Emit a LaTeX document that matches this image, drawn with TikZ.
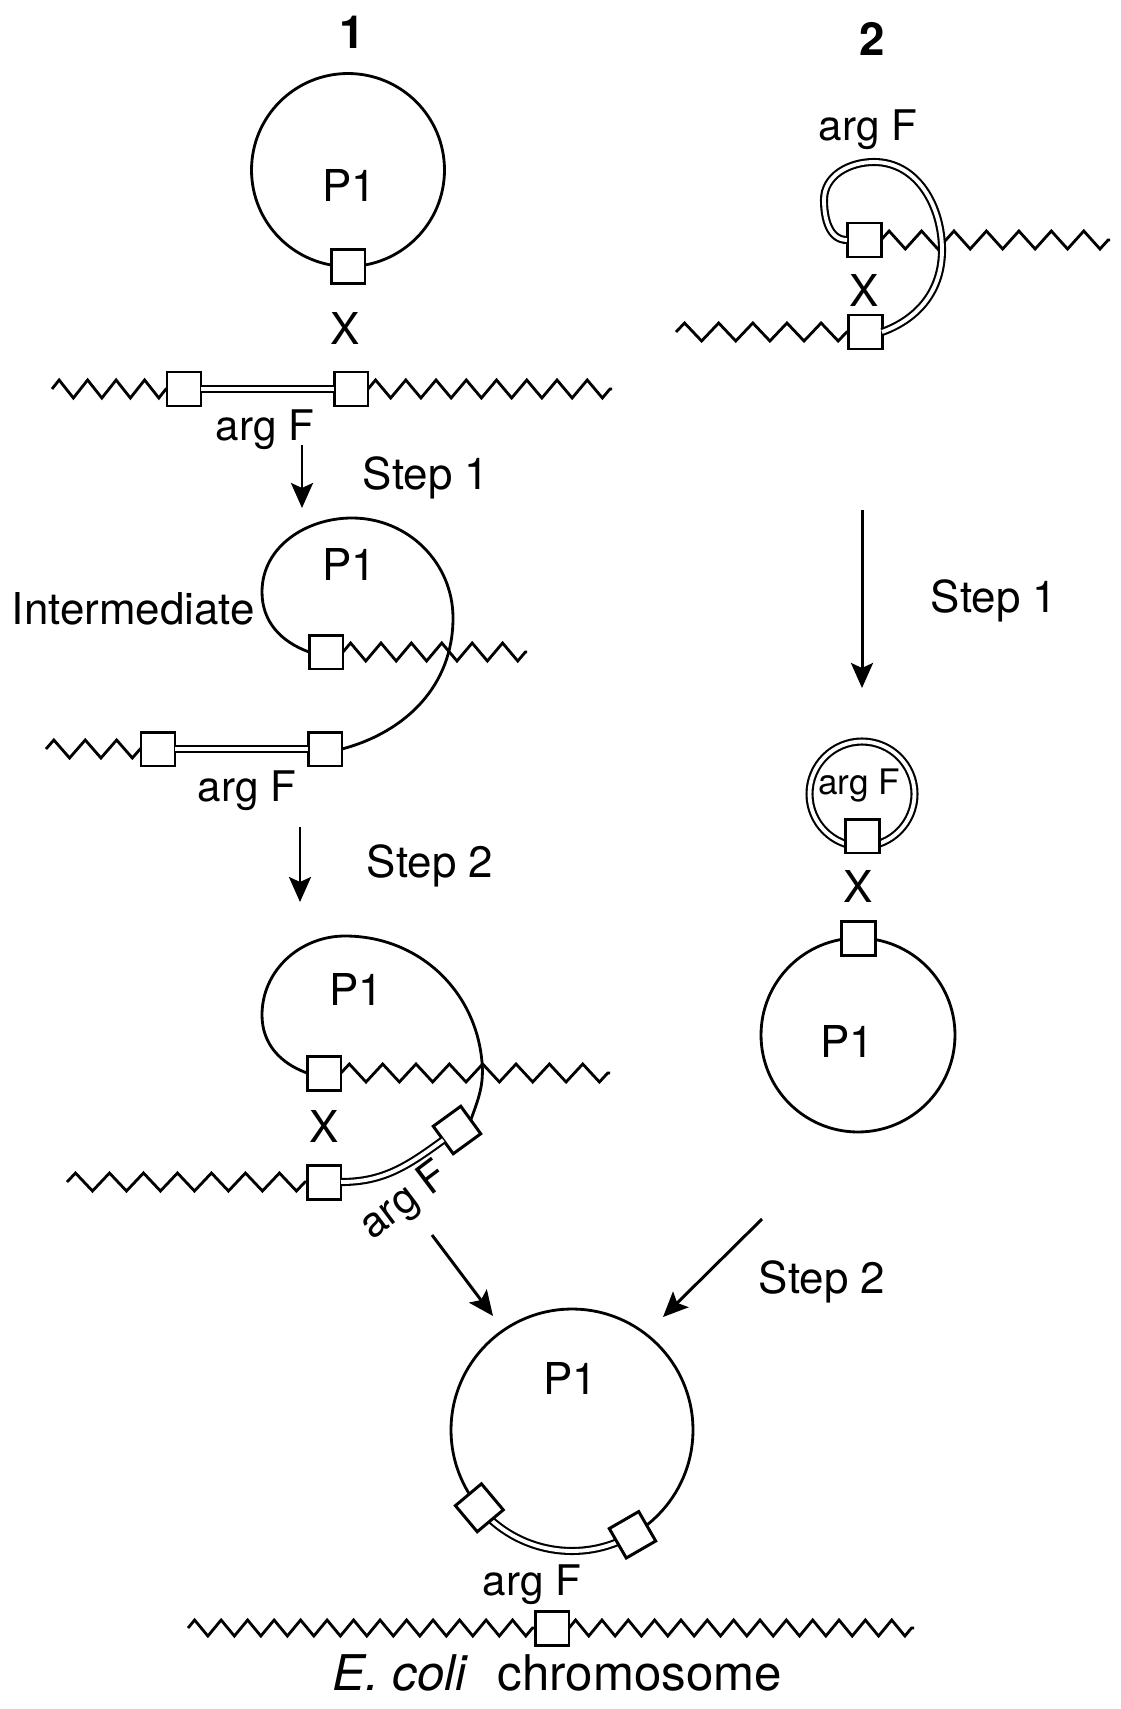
\documentclass[tikz,border=0pt]{standalone}
\usepackage{fontspec}
\setmainfont{TeX Gyre Heros}
\usetikzlibrary{arrows.meta,decorations.pathmorphing}

\begin{document}
\begin{tikzpicture}[x=0.02cm, y=0.02cm,
 ring/.style={draw, circle, line width=1.6pt, inner sep=0pt, outer sep=0pt},
 site/.style={draw, fill=white, line width=1.7pt, minimum size=0.68cm, inner sep=0pt, outer sep=0pt},
 dbl/.style={draw, line width=1.2pt, double=white, double distance=2.2pt},
 loop/.style={draw, line width=1.6pt},
 zz/.style={line width=1.6pt, decorate, decoration={zigzag, segment length=#1, amplitude=0.18cm}},
 lbl/.style={font=\fontsize{25}{30}\selectfont, inner sep=0pt},
 gene/.style={font=\fontsize{24}{28}\selectfont, inner sep=0pt},
 num/.style={font=\fontsize{26}{30}\selectfont\bfseries, inner sep=0pt},
 ar/.style={-{Stealth[length=5mm, width=4.4mm, inset=1mm]}, line width=1.7pt},
]
 \useasboundingbox (0,0) rectangle (1121,-1709);

 % ---- route 1: P1 meets the chromosome
 \node[num] (n1) at (352,-32) {1};
 \node[ring, minimum size=3.86cm] (cA) at (348,-170) {};
 \node[lbl] (pA) at (349,-185) {P1};
 \node[site] (sA) at (cA.south) {};
 \node[lbl] (xA) at (345,-328) {X};
 \node[site] (b1) at (184,-389) {};
 \node[site] (b2) at (351,-389) {};
 \coordinate (z1l) at (52,-389);
 \coordinate (z1r) at (612,-389);
 \draw[zz=0.570cm] (z1l) -- (b1.west);
 \draw[zz=0.605cm] (b2.east) -- (z1r);
 \draw[dbl] (b1.east) -- (b2.west);
 \node[gene] (gA) at (265,-430) {arg F};
 \coordinate (a1s) at (302,-445);
 \coordinate (a1e) at (302,-508);
 \draw[ar] (a1s) -- (a1e);
 \node[lbl] (s1a) at (426,-478) {Step 1};

 % intermediate
 \node[site] (d1) at (326,-652) {};
 \node[site] (d2) at (325,-749) {};
 \node[site] (d3) at (158,-749) {};
 \draw[loop] (d1.west) to[out=160,in=270] (262,-592) to[out=90,in=180] (352,-518)
   to[out=0,in=90] (453,-618) to[out=270,in=15] (d2.east);
 \node[lbl] (pD) at (349,-564) {P1};
 \node[lbl, anchor=east] (im) at (255,-609) {Intermediate};
 \coordinate (z2r) at (527,-652);
 \coordinate (z3l) at (46,-749);
 \draw[zz=0.608cm] (d1.east) -- (z2r);
 \draw[zz=0.628cm] (z3l) -- (d3.west);
 \draw[dbl] (d3.east) -- (d2.west);
 \node[gene] (gD) at (247,-791) {arg F};
 \coordinate (a2s) at (300,-827);
 \coordinate (a2e) at (300,-902);
 \draw[ar] (a2s) -- (a2e);
 \node[lbl] (s2a) at (430,-866) {Step 2};

 % second crossover
 \node[site] (e1) at (324,-1073) {};
 \node[site, rotate=36] (e2) at (457,-1130) {};
 \node[site] (e3) at (324,-1182) {};
 \draw[loop] (e1.west) to[out=160,in=270] (262,-1015) to[out=90,in=180] (345,-936)
   to[out=0,in=95] (482,-1062) to[out=275,in=70] (e2.east);
 \draw[dbl] (e3.east) to[out=0,in=216] (e2.west);
 \node[lbl] (pE) at (356,-989) {P1};
 \node[lbl] (xE) at (324,-1126) {X};
 \coordinate (z4r) at (610,-1073);
 \coordinate (z5l) at (67,-1182);
 \draw[zz=0.667cm] (e1.east) -- (z4r);
 \draw[zz=0.680cm] (z5l) -- (e3.west);
 \node[gene, rotate=37] (gE) at (405,-1202) {arg F};

 % ---- route 2: argF loops out first
 \node[num] (n2) at (872,-39) {2};
 \node[gene] (gC) at (868,-130) {arg F};
 \node[site] (c1) at (864,-240) {};
 \node[site] (c2) at (865,-332) {};
 \node[lbl] (xC) at (864,-290) {X};
 \coordinate (z6r) at (1110,-240);
 \coordinate (z7l) at (676,-332);
 \draw[zz=0.649cm] (c1.east) -- (z6r);
 \draw[zz=0.683cm] (z7l) -- (c2.west);
 \draw[dbl] (c1.west) to[out=180,in=270] (824,-200) to[out=90,in=180] (874,-162)
   to[out=0,in=90] (942,-250) to[out=270,in=20] (c2.east);
 \coordinate (a3s) at (862,-510);
 \coordinate (a3e) at (862,-688);
 \draw[ar] (a3s) -- (a3e);
 \node[lbl] (s1b) at (994,-601) {Step 1};

 \node[dbl, circle, inner sep=0pt, minimum size=2.1cm] (cG) at (862,-794) {};
 \node[font=\fontsize{20}{24}\selectfont, inner sep=0pt] (gG) at (859,-786) {arg F};
 \node[site] (g1) at (862,-836) {};
 \node[lbl] (xG) at (858,-886) {X};
 \node[ring, minimum size=3.88cm] (cH) at (858,-1035) {};
 \node[site] (g2) at (cH.north) {};
 \node[lbl] (pH) at (847,-1041) {P1};

 % ---- product
 \coordinate (a4s) at (432,-1235);
 \coordinate (a4e) at (493,-1316);
 \coordinate (a5s) at (762,-1219);
 \coordinate (a5e) at (663,-1317);
 \draw[ar] (a4s) -- (a4e);
 \draw[ar] (a5s) -- (a5e);
 \node[lbl] (s2b) at (822,-1282) {Step 2};

 \node[ring, minimum size=4.84cm] (cF) at (572,-1430) {};
 \draw[dbl] (cF.220) arc[start angle=220, end angle=300, radius=2.42cm];
 \node[site, rotate=40] (f1) at (cF.220) {};
 \node[site, rotate=30] (f2) at (cF.300) {};
 \node[lbl] (pF) at (570,-1378) {P1};
 \node[gene] (gF) at (532,-1585) {arg F};

 \node[site] (h1) at (552,-1628) {};
 \coordinate (z8l) at (188,-1628);
 \coordinate (z8r) at (914,-1628);
 \draw[zz=0.530cm, decoration={amplitude=0.16cm}] (z8l) -- (h1.west);
 \draw[zz=0.527cm, decoration={amplitude=0.16cm}] (h1.east) -- (z8r);
 \node[font=\fontsize{28}{32}\selectfont, inner sep=0pt] (ec) at (557,-1673)
   {\textit{E. coli}\hspace{0.6em}chromosome};
\end{tikzpicture}
\end{document}
